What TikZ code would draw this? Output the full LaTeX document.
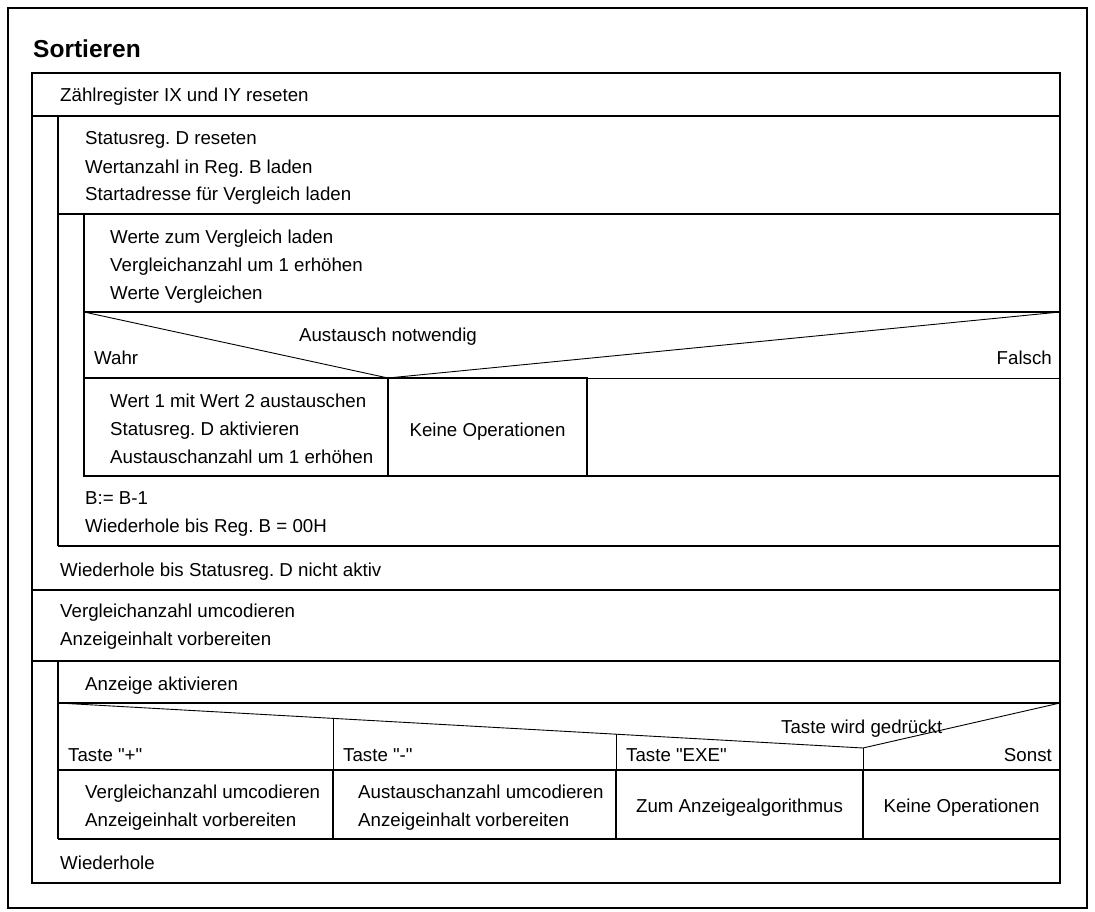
\documentclass[tikz,border=0pt]{standalone}
\usepackage{fontspec}
\setmainfont{Liberation Sans}[Ligatures=TeXOff]
\usepackage{tikz}
\usetikzlibrary{calc}
\frenchspacing
\tikzset{
  nsline/.style={draw=black, line width=2.2pt},
  nsthin/.style={draw=black, line width=0.9pt},
  txt/.style={anchor=base west, inner sep=0pt, align=left, font=\fontsize{18.7}{28}\selectfont},
  ctxt/.style={txt, anchor=base, align=center},
  rtxt/.style={txt, anchor=base east, align=right},
  ttl/.style={anchor=base west, inner sep=0pt, font=\fontsize{24.5}{30}\selectfont\bfseries},
}

\begin{document}
\begin{tikzpicture}[x=1pt, y=-1pt]
\useasboundingbox (0,0) rectangle (1095,912);
% outer frames
\draw[nsline] (8,8) rectangle (1087,908);
\draw[nsline] (32,73) rectangle (1060,883);
\node[ttl] (title) at (33,58) {Sortieren};

% first loop (until D inactive)
\draw[nsline] (32,116) -- (1060,116);
\draw[nsline] (58,116) -- (58,546);
\draw[nsline] (58,214) -- (1060,214);
\draw[nsline] (58,546) -- (1060,546);
\draw[nsline] (32,590) -- (1060,590);
% inner loop (until B = 00H)
\draw[nsline] (84,214) -- (84,476);
\draw[nsline] (84,312) -- (1060,312);
\draw[nsline] (84,476) -- (1060,476);
% decision
\draw[nsthin] (84,312) -- (388,378) -- (1060,312);
\draw[nsline] (84,378) rectangle (388,476);
\draw[nsline] (388,378) rectangle (587,476);
\draw[nsthin] (587,378) -- (1060,378);

% display loop
\draw[nsline] (32,661) -- (1060,661);
\draw[nsline] (58,661) -- (58,839);
\draw[nsline] (58,703) -- (1060,703);
\draw[nsline] (58,770) -- (1060,770);
\draw[nsline] (58,839) -- (1060,839);
% case
\draw[nsthin] (58,703) -- (863,748) -- (1060,703);
\draw[nsthin] (333,718.4) -- (333,770);
\draw[nsthin] (616,734.2) -- (616,770);
\draw[nsthin] (863,748) -- (863,770);
\draw[nsline] (333,770) -- (333,839);
\draw[nsline] (616,770) -- (616,839);
\draw[nsline] (863,770) -- (863,839);

% texts (multi-line nodes sit on their last baseline)
\node[txt] (reset) at (60,102) {Zählregister IX und IY reseten};
\node[txt] (init) at (85,201) {Statusreg. D reseten\\Wertanzahl in Reg. B laden\\Startadresse für Vergleich laden};
\node[txt] (load) at (110,299) {Werte zum Vergleich laden\\Vergleichanzahl um 1 erhöhen\\Werte Vergleichen};
\node[ctxt] (cond) at (388,341) {Austausch notwendig};
\node[txt] (yes) at (94,364) {Wahr};
\node[rtxt] (no) at (1052,364) {Falsch};
\node[txt] (swap) at (110,463) {Wert 1 mit Wert 2 austauschen\\Statusreg. D aktivieren\\Austauschanzahl um 1 erhöhen};
\node[ctxt] (noop) at (487.5,436) {Keine Operationen};
\node[txt] (dec) at (85,532) {B:= B-1\\Wiederhole bis Reg. B = 00H};
\node[txt] (until) at (60,576) {Wiederhole bis Statusreg. D nicht aktiv};
\node[txt] (prep) at (60,645) {Vergleichanzahl umcodieren\\Anzeigeinhalt vorbereiten};
\node[txt] (show) at (85,690) {Anzeige aktivieren};
\node[txt] (key) at (781,733) {Taste wird gedrückt};
\node[txt] (plus) at (68,761) {Taste "+"};
\node[txt] (minus) at (343,761) {Taste "-"};
\node[txt] (exe) at (626,761) {Taste "EXE"};
\node[rtxt] (else) at (1052,761) {Sonst};
\node[txt] (cplus) at (85,826) {Vergleichanzahl umcodieren\\Anzeigeinhalt vorbereiten};
\node[txt] (cminus) at (358,826) {Austauschanzahl umcodieren\\Anzeigeinhalt vorbereiten};
\node[ctxt] (cexe) at (739.5,812) {Zum Anzeigealgorithmus};
\node[ctxt] (celse) at (961.5,812) {Keine Operationen};
\node[txt] (again) at (60,869) {Wiederhole};
\end{tikzpicture}
\end{document}
